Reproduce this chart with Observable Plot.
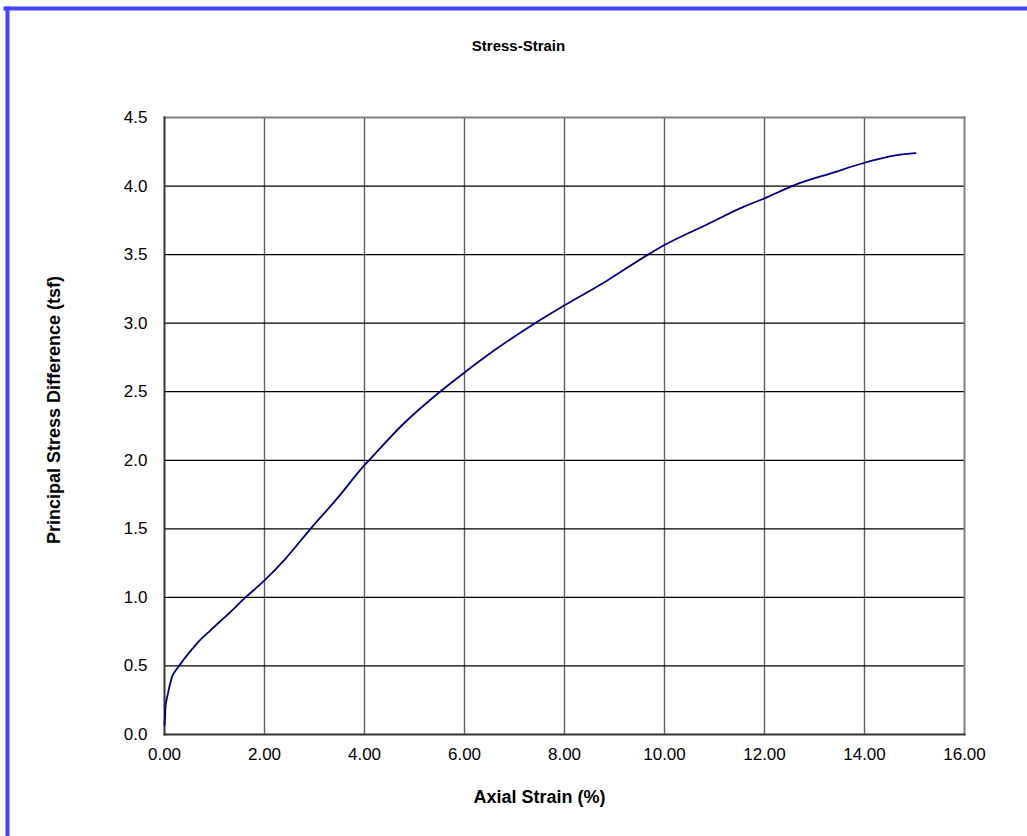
<!DOCTYPE html>
<html>
<head>
<meta charset="utf-8">
<script src="https://cdn.jsdelivr.net/npm/d3@7"></script>
<script src="https://cdn.jsdelivr.net/npm/@observablehq/plot@0.6"></script>
<style>
  html, body { margin: 0; padding: 0; background: #fff; overflow: hidden; width: 1027px; height: 836px; }
  #wrap { position: relative; width: 1027px; height: 836px; overflow: hidden; }
  svg { font-family: "Liberation Sans", Arial, sans-serif; }
</style>
</head>
<body>
<div id="wrap"></div>
<script>
const strain = [0, 0.01, 0.02, 0.04, 0.07, 0.10, 0.15, 0.21, 0.29, 0.38, 0.49, 0.65, 0.92, 1.25, 1.62, 1.99, 2.39, 2.92, 3.45, 4.00, 4.09, 4.79, 5.51, 6.00, 6.59, 7.41, 8.00, 8.85, 9.67, 10.00, 10.85, 11.59, 12.00, 12.55, 13.39, 14.00, 14.32, 14.65, 15.02];
const stress = [0.07, 0.12, 0.20, 0.25, 0.30, 0.35, 0.42, 0.46, 0.50, 0.545, 0.595, 0.665, 0.76, 0.87, 1.00, 1.12, 1.27, 1.50, 1.72, 1.965, 2.00, 2.27, 2.50, 2.64, 2.80, 3.00, 3.13, 3.31, 3.50, 3.57, 3.72, 3.85, 3.91, 4.00, 4.10, 4.17, 4.20, 4.225, 4.24];
const xTicks = [0, 2, 4, 6, 8, 10, 12, 14, 16];
const yTicks = [0, 0.5, 1, 1.5, 2, 2.5, 3, 3.5, 4, 4.5];
const titleText = "Stress-Strain";
const xLabel = "Axial Strain (%)";
const yLabel = "Principal Stress Difference (tsf)";

const data = strain.map((s, i) => ({strain: s, stress: stress[i]}));

const chart = Plot.plot({
  width: 1027,
  height: 836,
  marginLeft: 164,
  marginRight: 63,
  marginTop: 117,
  marginBottom: 102,
  style: {background: "transparent", fontFamily: "'Liberation Sans', Arial, sans-serif", overflow: "hidden"},
  x: {domain: [0, 16], ticks: xTicks, label: null},
  y: {domain: [0, 4.5], ticks: yTicks, label: null},
  marks: [
    // outer chart-area border (left and top edges visible in the picture)
    Plot.frame({anchor: "left", stroke: "#4444ff", strokeWidth: 4, insetLeft: -157, insetTop: -109, insetBottom: -120}),
    Plot.frame({anchor: "top", stroke: "#4444ff", strokeWidth: 4, insetTop: -109, insetLeft: -159, insetRight: -80}),
    Plot.ruleX(xTicks.slice(1, -1), {stroke: "#606060", strokeWidth: 1.4}),
    Plot.ruleY(yTicks.slice(1, -1), {stroke: "#000", strokeWidth: 1.2}),
    Plot.frame({anchor: "top", stroke: "#808080", strokeWidth: 2}),
    Plot.frame({anchor: "right", stroke: "#808080", strokeWidth: 2}),
    Plot.frame({anchor: "bottom", stroke: "#333", strokeWidth: 2}),
    Plot.frame({anchor: "left", stroke: "#333", strokeWidth: 2}),
    Plot.axisX(xTicks, {tickSize: 0, tickPadding: 13, tickFormat: d => d.toFixed(2), fontSize: 17, fill: "#000", label: null}),
    Plot.axisY(yTicks, {tickSize: 0, tickPadding: 17, tickFormat: d => d.toFixed(1), fontSize: 17, fill: "#000", label: null}),
    Plot.line(data, {x: "strain", y: "stress", stroke: "#000080", strokeWidth: 1.8, curve: "monotone-x"}),
    Plot.text([titleText], {frameAnchor: "top", dx: -46, dy: -71, lineAnchor: "middle", textAnchor: "middle", fontSize: 15, fontWeight: "bold", fill: "#000"}),
    Plot.text([xLabel], {frameAnchor: "bottom", dx: -25, dy: 63, lineAnchor: "middle", textAnchor: "middle", fontSize: 18, fontWeight: "bold", fill: "#000"}),
    Plot.text([yLabel], {frameAnchor: "left", dx: -110, dy: -16, rotate: -90, lineAnchor: "middle", textAnchor: "middle", fontSize: 18, fontWeight: "bold", fill: "#000"})
  ]
});
document.getElementById("wrap").prepend(chart);
</script>
</body>
</html>
